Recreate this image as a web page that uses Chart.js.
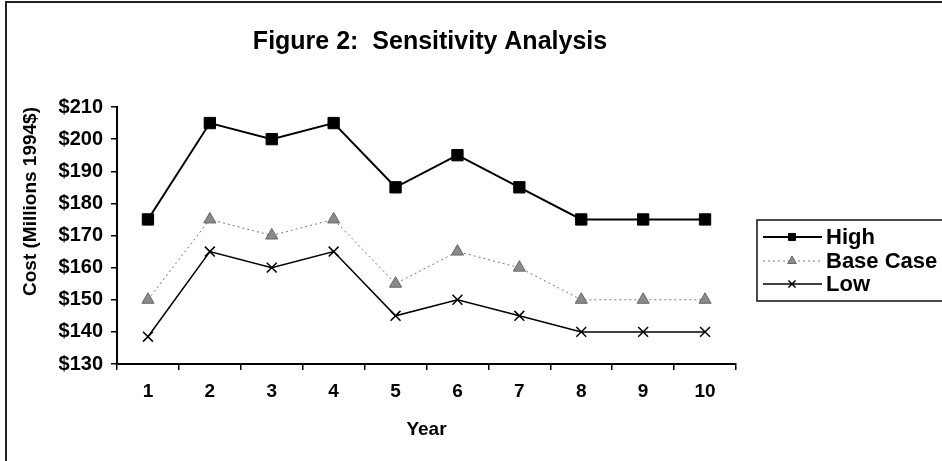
<!DOCTYPE html>
<html>
<head>
<meta charset="utf-8">
<title>Figure 2: Sensitivity Analysis</title>
<script src="https://cdn.jsdelivr.net/npm/chart.js@4/dist/chart.umd.min.js"></script>
<style>
    html, body { margin: 0; padding: 0; background: #fff; }
    .container { position: relative; width: 942px; height: 461px; overflow: hidden; }
    .frame { position: absolute; left: 5px; top: 1px; width: 960px; height: 480px; border: 2px solid #222; box-sizing: border-box; }
    canvas { position: absolute; left: 0; top: 0; }
</style>
</head>
<body>
<div class="container">
    <div class="frame"></div>
    <canvas id="canvas-sensitivity" width="942" height="461"></canvas>
</div>
<script>
const years = ['1','2','3','4','5','6','7','8','9','10']
const high = [175, 205, 200, 205, 185, 195, 185, 175, 175, 175]
const base_case = [150, 175, 170, 175, 155, 165, 160, 150, 150, 150]
const low = [138.5, 165, 160, 165, 145, 150, 145, 140, 140, 140]

const FONT = "'Liberation Sans', Arial, sans-serif"

// legend box drawn by hand, excel style, sits right of the plot and runs off the edge
const box_legend = {
    id: 'box_legend',
    afterDraw(chart){
        const ctx = chart.ctx
        const box = { left: 757, top: 220, bottom: 301 }
        const rows = [237, 261, 284]
        ctx.save()
        ctx.strokeStyle = '#111'
        ctx.lineWidth = 1.5
        ctx.strokeRect(box.left, box.top, 300, box.bottom - box.top)
        chart.data.datasets.forEach((ds, i) => {
            const y = rows[i]
            ctx.strokeStyle = ds.borderColor
            ctx.lineWidth = ds.borderWidth
            ctx.setLineDash(ds.borderDash || [])
            ctx.beginPath()
            ctx.moveTo(763, y)
            ctx.lineTo(822, y)
            ctx.stroke()
            ctx.setLineDash([])
            ctx.fillStyle = ds.pointBackgroundColor
            ctx.strokeStyle = ds.pointBorderColor
            ctx.lineWidth = ds.pointBorderWidth
            Chart.helpers.drawPoint(ctx, { pointStyle: ds.pointStyle, radius: 5, borderWidth: ds.pointBorderWidth, rotation: 0 }, 792, y)
            ctx.fillStyle = '#000'
            ctx.font = `bold 22px ${FONT}`
            ctx.textBaseline = 'middle'
            ctx.fillText(ds.label, 826, y + 1)
        })
        ctx.restore()
    }
}

const ctx = document.getElementById('canvas-sensitivity').getContext('2d')
const config = {
    type: 'line',
    data: {
        labels: years,
        datasets: [
            {
                label: 'High',
                data: high,
                borderColor: '#000',
                borderWidth: 2,
                pointStyle: 'rect',
                pointRadius: 8,
                pointBackgroundColor: '#000',
                pointBorderColor: '#000',
                pointBorderWidth: 1
            },
            {
                label: 'Base Case',
                data: base_case,
                borderColor: '#777',
                borderWidth: 1,
                borderDash: [2, 3],
                pointStyle: 'triangle',
                pointRadius: 7,
                pointBackgroundColor: '#8a8a8a',
                pointBorderColor: '#666',
                pointBorderWidth: 1
            },
            {
                label: 'Low',
                data: low,
                borderColor: '#000',
                borderWidth: 1.5,
                pointStyle: 'crossRot',
                pointRadius: 7,
                pointBackgroundColor: '#000',
                pointBorderColor: '#000',
                pointBorderWidth: 1.5
            }
        ]
    },
    options: {
        responsive: false,
        animation: false,
        events: [],
        layout: { padding: { left: 0, right: 82, top: 0, bottom: 0 } },
        elements: { line: { tension: 0 } },
        scales: {
            x: {
                offset: true,
                afterFit(scale){ scale.height = 97 },
                grid: { offset: true, drawOnChartArea: false, tickLength: 6, color: '#000', lineWidth: 1.5 },
                border: { color: '#000', width: 2 },
                ticks: { color: '#000', padding: 10, font: { family: FONT, size: 19, weight: 'bold' } },
                title: { display: true, text: 'Year', color: '#000', padding: 20, font: { family: FONT, size: 19, weight: 'bold' } }
            },
            y: {
                min: 130,
                max: 210,
                afterFit(scale){ scale.width = 117 },
                grid: { drawOnChartArea: false, tickLength: 6, color: '#000', lineWidth: 1.5 },
                border: { color: '#000', width: 2 },
                ticks: {
                    stepSize: 10,
                    padding: 8,
                    color: '#000',
                    font: { family: FONT, size: 20, weight: 'bold' },
                    callback: value => '$' + value
                },
                title: { display: true, text: 'Cost (Millions 1994$)', align: 'end', color: '#000', padding: 19, font: { family: FONT, size: 19, weight: 'bold' } }
            },
            // empty axis that only reserves room for the legend box
            pad: {
                type: 'linear',
                position: 'right',
                afterFit(scale){ scale.width = 124 },
                grid: { display: false },
                border: { display: false },
                ticks: { display: false }
            }
        },
        plugins: {
            legend: { display: false },
            tooltip: { enabled: false },
            title: {
                display: true,
                text: 'Figure 2:  Sensitivity Analysis',
                color: '#000',
                font: { family: FONT, size: 25, weight: 'bold' },
                padding: { top: 27, bottom: 50 }
            }
        }
    },
    plugins: [box_legend]
}
new Chart(ctx, config)
</script>
</body>
</html>
